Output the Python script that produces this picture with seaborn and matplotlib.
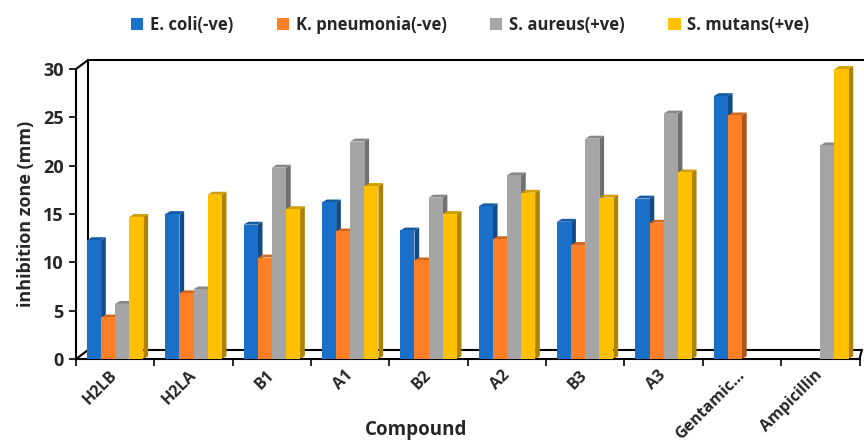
import numpy as np
import pandas as pd
import matplotlib
matplotlib.use("Agg")
import matplotlib.pyplot as plt
import matplotlib.colors as mcolors
from matplotlib.patches import Polygon, Patch
import seaborn as sns

compounds = ["H2LB", "H2LA", "B1", "A1", "B2", "A2", "B3", "A3", "Gentamic\u2026", "Ampicillin"]
series = ["E. coli(-ve)", "K. pneumonia(-ve)", "S. aureus(+ve)", "S. mutans(+ve)"]
ecoli = [12.3, 15.0, 13.9, 16.2, 13.3, 15.8, 14.2, 16.6, 27.2, np.nan]
kpneu = [4.3, 6.8, 10.5, 13.2, 10.2, 12.4, 11.8, 14.1, 25.2, np.nan]
saureus = [5.7, 7.2, 19.8, 22.5, 16.7, 19.0, 22.8, 25.4, np.nan, 22.1]
smutans = [14.7, 17.0, 15.5, 17.9, 15.0, 17.2, 16.7, 19.3, np.nan, 30.0]
colors = ["#1A6FC8", "#FF7F27", "#A5A5A5", "#FFC000"]

df = pd.DataFrame({
    "Compound": compounds * 4,
    "Series": sum([[s] * len(compounds) for s in series], []),
    "Value": ecoli + kpneu + saureus + smutans,
})

sns.set_theme(style="white")
plt.rcParams["font.family"] = ["Open Sans", "DejaVu Sans"]

fig = plt.figure(figsize=(8.64, 4.43), dpi=100)
ax = fig.add_axes([0.088, 0.1896, 0.9068, 0.6546])

sns.barplot(data=df, x="Compound", y="Value", hue="Series", order=compounds,
            hue_order=series, palette=colors, width=0.72, saturation=1,
            ax=ax, legend=False, linewidth=0, zorder=3)

# pseudo-3D side faces and caps derived from the drawn bars
dx, dy = 0.06, 0.3
for p in list(ax.patches):
    h = p.get_height()
    if not np.isfinite(h) or h <= 0:
        continue
    x0, w = p.get_x(), p.get_width()
    fc = np.array(mcolors.to_rgb(p.get_facecolor()))
    side = Polygon([(x0 + w, 0), (x0 + w + dx, dy), (x0 + w + dx, h + dy), (x0 + w, h)],
                   closed=True, facecolor=fc * 0.68, edgecolor="none", zorder=2, clip_on=False)
    cap = Polygon([(x0, h), (x0 + dx, h + dy), (x0 + w + dx, h + dy), (x0 + w, h)],
                  closed=True, facecolor=fc * 0.82, edgecolor="none", zorder=2, clip_on=False)
    ax.add_patch(side)
    ax.add_patch(cap)

ax.set_xlim(-0.5, len(compounds) - 0.5)
ax.set_ylim(0, 30)
ax.set_yticks([0, 5, 10, 15, 20, 25, 30])

for s in ["top", "right"]:
    ax.spines[s].set_visible(False)
for s in ["left", "bottom"]:
    ax.spines[s].set_color("black")
    ax.spines[s].set_linewidth(1.5)

# back wall / floor lines
bx, by = 0.0153, 0.031
kw = dict(transform=ax.transAxes, color="black", lw=1.5, clip_on=False, zorder=1)
ax.plot([bx, bx], [by, 1 + by], **kw)
ax.plot([bx, 1.006], [1 + by, 1 + by], **kw)
ax.plot([bx, 1.003], [by, by], **kw)
ax.plot([0, bx], [0, by], **kw)
ax.plot([0, bx], [1, 1 + by], **kw)
ax.plot([1.0, 1.003], [0, by], **kw)

# ticks: category boundaries as tick marks, labels at centers
ax.set_xticks(np.arange(len(compounds)))
ax.set_xticklabels(compounds, rotation=45, ha="right", va="center", rotation_mode="anchor",
                   fontsize=11.5, fontweight="bold")
ax.set_xticks(np.arange(-0.5, len(compounds)), minor=True)
ax.tick_params(axis="x", which="major", length=0, pad=10)
ax.tick_params(axis="x", which="minor", length=5, width=1.2, color="black", direction="out", bottom=True)
ax.tick_params(axis="y", which="major", length=5, width=1.2, color="black", direction="out", left=True,
               labelsize=13, pad=4)
for t in ax.get_yticklabels():
    t.set_fontweight("bold")

ax.set_xlabel("Compound", fontsize=13.5, fontweight="bold")
ax.xaxis.set_label_coords(0.434, -0.21)
ax.set_ylabel("inhibition zone (mm)", fontsize=13, fontweight="bold", labelpad=6)

handles = [Patch(facecolor=c, edgecolor="none") for c in colors]
fig.legend(handles, series, loc="center", bbox_to_anchor=(0.544, 0.944), ncol=4,
           frameon=False, prop={"weight": "bold", "size": 12}, handlelength=0.75,
           handleheight=0.75, handletextpad=0.4, columnspacing=2.6)

fig.savefig("out.png", dpi=100)
